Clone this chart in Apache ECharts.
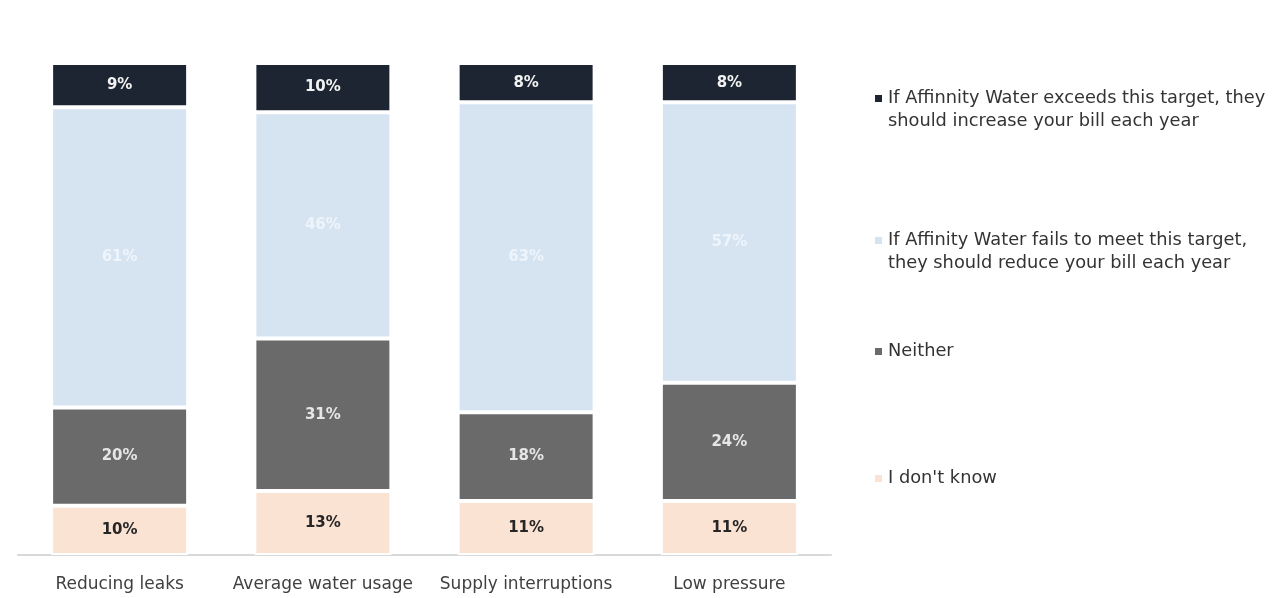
<!DOCTYPE html>
<html>
<head>
<meta charset="utf-8">
<script src="https://cdn.jsdelivr.net/npm/echarts@6/dist/echarts.min.js"></script>
<style>html,body{margin:0;padding:0;background:#fff;}#c{width:1277px;height:598px;}</style>
</head>
<body>
<div id="c"></div>
<script>
var categories = ['Reducing leaks', 'Average water usage', 'Supply interruptions', 'Low pressure'];
var dontKnow = [10, 13, 11, 11];
var neither = [20, 31, 18, 24];
var reduceBill = [61, 46, 63, 57];
var increaseBill = [9, 10, 8, 8];
var seriesNames = [
  'If Affinnity Water exceeds this target, they\nshould increase your bill each year',
  'If Affinity Water fails to meet this target,\nthey should reduce your bill each year',
  'Neither',
  'I don\'t know'
];

var chart = echarts.init(document.getElementById('c'));
var FONT = 'DejaVu Sans';
function lbl(color, bold) {
  return {show: true, position: 'inside', formatter: '{c}%', color: color,
          fontFamily: FONT, fontSize: 15, fontWeight: bold ? 'bold' : 'normal'};
}
var legendTops = [82, 224, 335, 462];
// icon square aligned with the first text line of two-line entries
var topIcon = 'path://M0,0H9V9H0Z M0,31.99H0.01V32H0Z';
var legends = seriesNames.map(function (n, i) {
  var twoLine = n.indexOf('\n') >= 0;
  return {
    data: [n], orient: 'vertical', left: 868, top: legendTops[i],
    icon: twoLine ? topIcon : 'rect', itemWidth: 9, itemHeight: twoLine ? 32 : 9,
    itemGap: 0, selectedMode: false,
    textStyle: {fontFamily: FONT, fontSize: 17.8, color: '#333', lineHeight: 23}
  };
});
chart.setOption({
  animation: false,
  backgroundColor: '#fff',
  legend: legends,
  grid: {left: 18, right: 446, top: 63, bottom: 43, containLabel: false},
  xAxis: {
    type: 'category', data: categories,
    axisLine: {lineStyle: {color: '#d9d9d9', width: 2}},
    axisTick: {show: false},
    axisLabel: {fontFamily: FONT, fontSize: 17, color: '#404040', margin: 21, interval: 0}
  },
  yAxis: {type: 'value', min: 0, max: 100, show: false, splitLine: {show: false}},
  series: [
    {name: seriesNames[3], type: 'bar', stack: 's', data: dontKnow, barWidth: 137,
     itemStyle: {color: '#fbe3d4', borderColor: '#fff', borderWidth: 2}, label: lbl('#262626', true)},
    {name: seriesNames[2], type: 'bar', stack: 's', data: neither, barWidth: 137,
     itemStyle: {color: '#6a6a6a', borderColor: '#fff', borderWidth: 2}, label: lbl('#e6e6e6', true)},
    {name: seriesNames[1], type: 'bar', stack: 's', data: reduceBill, barWidth: 137,
     itemStyle: {color: '#d6e4f2', borderColor: '#fff', borderWidth: 2}, label: lbl('#eef4fb', true)},
    {name: seriesNames[0], type: 'bar', stack: 's', data: increaseBill, barWidth: 137,
     itemStyle: {color: '#1d2533', borderColor: '#fff', borderWidth: 2}, label: lbl('#f2f2f2', true)}
  ]
});
</script>
</body>
</html>
